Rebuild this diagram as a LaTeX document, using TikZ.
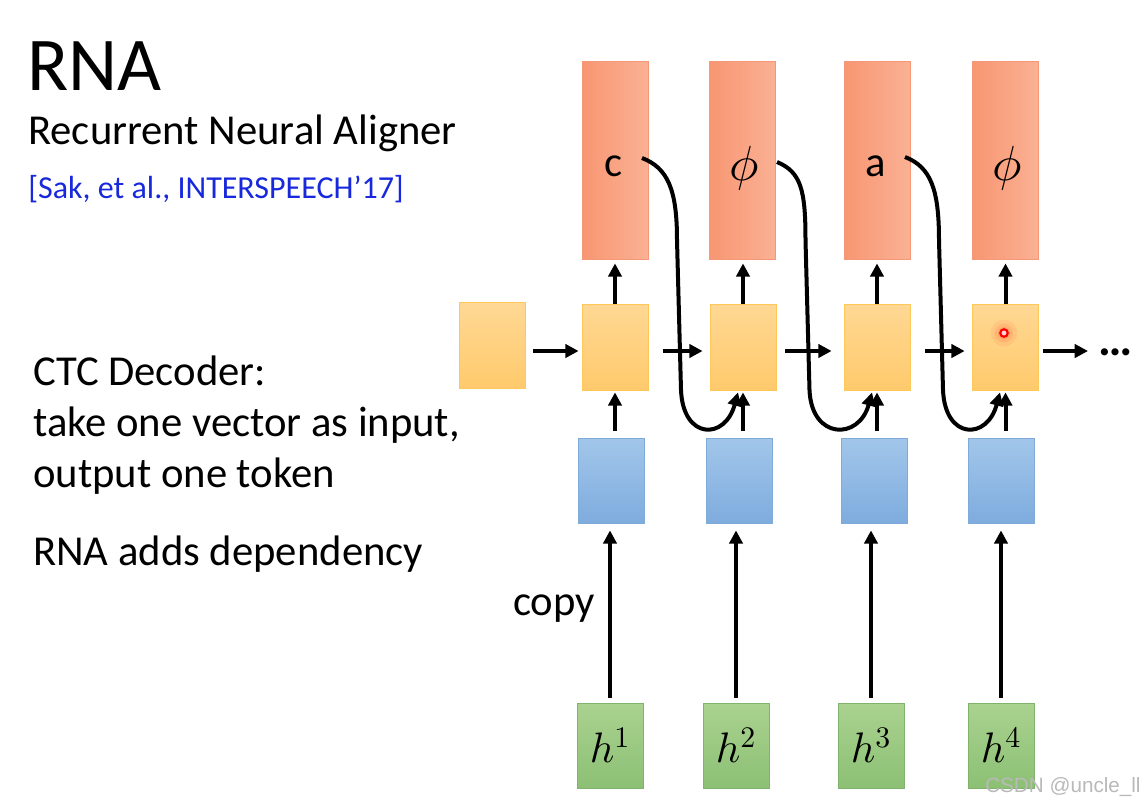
\documentclass[tikz,border=0pt]{standalone}
\usepackage{fontspec}
\setmainfont{Carlito}
\newfontfamily\wmfamily{Liberation Sans}
\DeclareFontFamily{OML}{cmm}{\skewchar\font127 }
\DeclareFontShape{OML}{cmm}{m}{it}{<->cmmi10}{}
\DeclareFontFamily{OMS}{cmsy}{\skewchar\font48 }
\DeclareFontShape{OMS}{cmsy}{m}{n}{<->cmsy10}{}
\DeclareFontFamily{OT1}{cmr}{\hyphenchar\font45 }
\DeclareFontShape{OT1}{cmr}{m}{n}{<->cmr10}{}
\usetikzlibrary{arrows.meta,calc}
\definecolor{redL}{RGB}{248,150,114}
\definecolor{redR}{RGB}{250,177,148}
\definecolor{redB}{RGB}{244,152,120}
\definecolor{yelT}{RGB}{255,216,148}
\definecolor{yelBo}{RGB}{255,202,108}
\definecolor{yelB}{RGB}{255,200,90}
\definecolor{bluT}{RGB}{162,198,234}
\definecolor{bluBo}{RGB}{126,172,222}
\definecolor{bluB}{RGB}{128,170,216}
\definecolor{grnT}{RGB}{170,210,144}
\definecolor{grnBo}{RGB}{140,192,116}
\definecolor{grnB}{RGB}{128,180,108}
\definecolor{citeblue}{RGB}{24,40,220}
\newcommand\bodyfont{\fontsize{32}{38}\selectfont}
\begin{document}
\begin{tikzpicture}[x=0.75pt,y=-0.75pt,
  box/.style={draw, line width=0.6pt, inner sep=0pt, minimum width=49.5pt},
  redbox/.style={box, draw=redB, left color=redL, right color=redR, minimum height=148.5pt},
  yelbox/.style={box, draw=yelB, top color=yelT, bottom color=yelBo, minimum height=64.5pt},
  bluebox/.style={box, draw=bluB, top color=bluT, bottom color=bluBo, minimum height=63.75pt},
  grnbox/.style={box, draw=grnB, top color=grnT, bottom color=grnBo, minimum height=63.75pt},
  arr/.style={-{Triangle[length=10pt,width=10pt]}, line width=3pt},
  txt/.style={anchor=base west, inner sep=0pt, font=\bodyfont},
  tok/.style={inner sep=0pt, font=\bodyfont},
  phitok/.style={inner sep=0pt, font=\fontsize{37}{44}\selectfont}]
\useasboundingbox (0,0) rectangle (1147,804);
\fill[white] (0,0) rectangle (1147,804);

% boxes
\node[yelbox] (y0) at (492,345.5) {};
\node[yelbox] (y1) at (615,347) {};
\node[yelbox] (y2) at (743,347) {};
\node[yelbox] (y3) at (877,347) {};
\node[yelbox] (y4) at (1005.5,347) {};
\node[redbox] (r1) at (615,160) {};
\node[redbox] (r2) at (742.5,160) {};
\node[redbox] (r3) at (877,160) {};
\node[redbox] (r4) at (1005.5,160) {};
\node[bluebox] (b1) at (611.5,480.5) {};
\node[bluebox] (b2) at (739.5,480.5) {};
\node[bluebox] (b3) at (874.5,480.5) {};
\node[bluebox] (b4) at (1001.5,480.5) {};
\node[grnbox] (g1) at (610,745.5) {};
\node[grnbox] (g2) at (736,745.5) {};
\node[grnbox] (g3) at (871,745.5) {};
\node[grnbox] (g4) at (1001,745.5) {};

% labels in boxes
\node[tok] (t1) at (614,166.5) {c};
\node[phitok] (t2) at (744,168.5) {$\phi$};
\node[tok] (t3) at (876,166.5) {a};
\node[phitok] (t4) at (1007,168.5) {$\phi$};
\node[tok] (h1) at (g1.center) {$h^1$};
\node[tok] (h2) at (g2.center) {$h^2$};
\node[tok] (h3) at (g3.center) {$h^3$};
\node[tok] (h4) at (g4.center) {$h^4$};

% vertical arrows
\foreach \i in {1,2,3,4}{
  \draw[arr, shorten <=3.75pt, shorten >=5.25pt] (g\i.north) -- (g\i.north |- b\i.south);
  \draw[arr, shorten <=5pt, shorten >=1.5pt] (y\i.south |- b\i.north) -- (y\i.south);
  \draw[arr, shorten >=3pt] (y\i.north) -- (y\i.north |- r\i.south);
}

% horizontal arrows
\coordinate (out) at (1088,351);
\draw[arr, shorten <=6pt, shorten >=2.25pt] ($(y0.east)+(0,5.5)$) -- ($(y1.west)+(0,4)$);
\draw[arr, shorten <=11.25pt, shorten >=5.25pt] ($(y1.east)+(0,4)$) -- ($(y2.west)+(0,4)$);
\draw[arr, shorten <=6.75pt, shorten >=9pt] ($(y2.east)+(0,4)$) -- ($(y3.west)+(0,4)$);
\draw[arr, shorten <=11.25pt, shorten >=5.6pt] ($(y3.east)+(0,4)$) -- ($(y4.west)+(0,4)$);
\draw[arr, shorten <=3.4pt] ($(y4.east)+(0,4)$) -- (out);
\node[anchor=base, inner sep=0pt, font=\fontsize{36}{40}\selectfont\bfseries] (dots) at (1116,355) {…};

% curved dependency arrows
\draw[arr] ($(r1.center)+(27,-2)$) .. controls +(26,10) and +(0,-50) .. ($(r1.center)+(62,80)$)
  -- ($(r1.center)+(66,230)$) .. controls +(2,50) and +(-13,48) .. ($(y2.south)+(-5,2)$);
\draw[arr] ($(r2.center)+(34.5,2)$) .. controls +(24,10) and +(0,-50) .. ($(r2.center)+(63,80)$)
  -- ($(r2.center)+(67,230)$) .. controls +(2,50) and +(-13,48) .. ($(y3.south)+(-5,2)$);
\draw[arr] ($(r3.center)+(28,-3)$) .. controls +(26,10) and +(0,-50) .. ($(r3.center)+(62,80)$)
  -- ($(r3.center)+(66,230)$) .. controls +(2,50) and +(-13,48) .. ($(y4.south)+(-5.5,2)$);

% laser pointer dot
\coordinate (dot) at (1004,333);
\fill[red, opacity=0.06] (dot) circle[radius=10pt];
\fill[red, opacity=0.08] (dot) circle[radius=7pt];
\fill[red, opacity=0.12] (dot) circle[radius=4.5pt];
\draw[red, line width=1.6pt, fill={rgb,255:red,255;green,215;blue,215}] (dot) circle[radius=2.8pt];

% left texts
\node[txt, font=\fontsize{57}{64}\selectfont] (title) at (27,90) {RNA};
\node[txt] (sub) at (28,144) {Recurrent Neural Aligner};
\node[txt, font=\fontsize{24}{29}\selectfont, text=citeblue] (cite) at (28,198) {[Sak, et al., INTERSPEECH’17]};
\node[txt] (l1) at (33,385) {CTC Decoder:};
\node[txt] (l2) at (33,436) {take one vector as input,};
\node[txt] (l3) at (33,487) {output one token};
\node[txt] (l4) at (33,565) {RNA adds dependency};
\node[txt] (copy) at (513,615) {copy};

% watermark
\node[anchor=base west, inner sep=0pt, text=gray!55, font=\wmfamily\fontsize{15.5}{18}\selectfont] (wm) at (985,792) {CSDN @uncle\_ll};
\end{tikzpicture}
\end{document}
